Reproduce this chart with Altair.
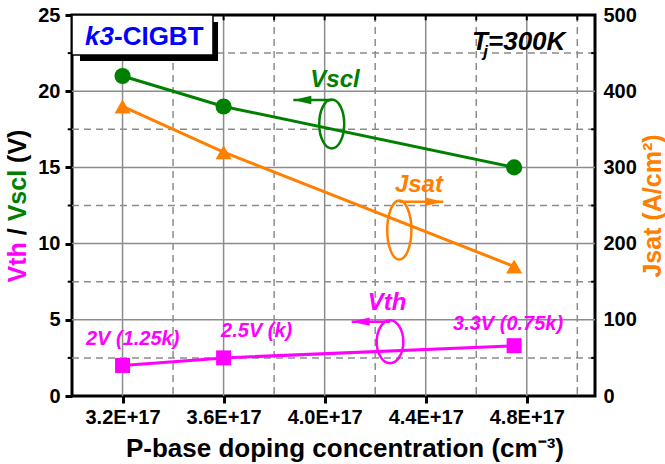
import altair as alt
import pandas as pd

# ---------------- data (doping in units of 1E+17 cm^-3) ----------------
doping = [3.2, 3.6, 4.75]
vth = [2.0, 2.5, 3.3]
vscl = [21.0, 19.0, 15.0]
jsat = [380, 320, 170]
vth_labels = ["2V (1.25k)", "2.5V (k)", "3.3V (0.75k)"]
vth_label_x = [3.24, 3.731, 4.726]
vth_label_y = [3.35, 3.87, 4.33]

x_ticks = [3.2, 3.6, 4.0, 4.4, 4.8]
x_minor = [3.4, 3.8, 4.2, 4.6, 5.0]
y_ticks = [0, 5, 10, 15, 20, 25]
y_major_grid = [5, 10, 15, 20]
y_minor_grid = [2.5, 7.5, 12.5, 17.5, 22.5]
jsat_ticks = [0, 100, 200, 300, 400, 500]
jsat_minor = [50, 150, 250, 350, 450]

# annotation groups (label, ellipse, arrow) in left-axis data units
ann_names = ["Vscl", "Jsat", "Vth"]
ann_text_x = [4.041, 4.373, 4.247]
ann_text_y = [20.28, 13.4, 5.64]
ann_ell_x = [4.028, 4.2955, 4.2587]
ann_ell_y = [17.85, 10.89, 3.56]
ann_ell_h = [49, 59, 43]
ann_ell_ratio = [0.51, 0.41, 0.62]
ann_arrow_y = [19.42, 12.75, 4.88]
ann_arrow_tip = [3.876, 4.4696, 4.107]

X_DOMAIN = [3.0, 5.07]
Y_DOMAIN = [0, 25]
J_DOMAIN = [0, 500]

GREEN = "#008000"
ORANGE = "#FF8000"
MAGENTA = "#FF00FF"
BLUE = "#0000FF"
GRID = "#8c8c8c"
FONT = "Liberation Sans"

df = pd.DataFrame({"doping": doping, "vth": vth, "vscl": vscl, "jsat": jsat,
                   "label": vth_labels, "lx": vth_label_x, "ly": vth_label_y})

xs = alt.Scale(domain=X_DOMAIN, nice=False, zero=False)
ys = alt.Scale(domain=Y_DOMAIN, nice=False, zero=False)
js = alt.Scale(domain=J_DOMAIN, nice=False, zero=False)

x_axis = alt.Axis(values=x_ticks, labelExpr="format(datum.value, '.1f') + 'E+17'",
                  title=None, grid=False, domain=False, ticks=True, tickSize=7,
                  tickWidth=3, tickColor="black", labelFontSize=20, labelFont=FONT,
                  labelFontWeight="bold", labelColor="black", labelPadding=4,
                  labelFlush=False, labelOverlap=False)
y_axis = alt.Axis(values=y_ticks, title=None, grid=False, domain=False, tickSize=7,
                  tickWidth=3, tickColor="black", labelFontSize=20, labelFont=FONT,
                  labelFontWeight="bold", labelColor="black", labelPadding=5,
                  labelFlush=False, labelOverlap=False)
j_axis = alt.Axis(orient="right", values=jsat_ticks, title=None, grid=False,
                  domain=False, ticks=False, labelFontSize=20, labelFont=FONT,
                  labelFontWeight="bold", labelColor="black", labelPadding=8,
                  labelFlush=False, labelOverlap=False)


def X(field):
    return alt.X(field, type="quantitative", scale=xs, axis=x_axis)


def Y(field):
    return alt.Y(field, type="quantitative", scale=ys, axis=y_axis)


def J(field):
    return alt.Y(field, type="quantitative", scale=js, axis=j_axis)


# ---------------- grid ----------------
vgrid_major = alt.Chart(pd.DataFrame({"v": x_ticks})).mark_rule(
    color=GRID, strokeWidth=1.5).encode(x=X("v"))
vgrid_minor = alt.Chart(pd.DataFrame({"v": x_minor})).mark_rule(
    color=GRID, strokeWidth=1.5, strokeDash=[7, 5]).encode(x=X("v"))
hgrid_major = alt.Chart(pd.DataFrame({"v": y_major_grid})).mark_rule(
    color=GRID, strokeWidth=1.5).encode(y=Y("v"))
hgrid_minor = alt.Chart(pd.DataFrame({"v": y_minor_grid})).mark_rule(
    color=GRID, strokeWidth=1.5, strokeDash=[7, 5]).encode(y=Y("v"))

# minor ticks (left outward, top inward)
lminor = alt.Chart(pd.DataFrame({"v": y_minor_grid, "a": 2.983, "b": 3.0})).mark_rule(
    color="black", strokeWidth=2).encode(x=X("a"), x2="b:Q", y=Y("v"))
top_ticks = alt.Chart(pd.DataFrame({"v": x_ticks + x_minor, "a": 24.65, "b": 25.0})).mark_rule(
    color="black", strokeWidth=2).encode(x=X("v"), y=Y("a"), y2="b:Q")

# ---------------- series on left axis ----------------
base = alt.Chart(df)
vth_line = base.mark_line(color=MAGENTA, strokeWidth=3).encode(x=X("doping"), y=Y("vth"))
vth_pts = base.mark_point(shape="square", filled=True, size=225, color=MAGENTA,
                          opacity=1).encode(x=X("doping"), y=Y("vth"))
vscl_line = base.mark_line(color=GREEN, strokeWidth=3).encode(x=X("doping"), y=Y("vscl"))
vscl_pts = base.mark_point(shape="circle", filled=True, size=260, color=GREEN,
                           opacity=1).encode(x=X("doping"), y=Y("vscl"))
vth_text = base.mark_text(color=MAGENTA, font=FONT, fontSize=20, fontWeight="bold",
                          fontStyle="italic", align="center", baseline="alphabetic").encode(
    x=X("lx"), y=Y("ly"), text="label:N")

# ---------------- annotation groups ----------------
colors = [GREEN, ORANGE, MAGENTA]
ann_layers = []
for i, name in enumerate(ann_names):
    c = colors[i]
    d = pd.DataFrame({"tx": [ann_text_x[i]], "ty": [ann_text_y[i]], "t": [name],
                      "ex": [ann_ell_x[i]], "ey": [ann_ell_y[i]],
                      "ay": [ann_arrow_y[i]], "tip": [ann_arrow_tip[i]]})
    r = ann_ell_ratio[i]
    ell_path = f"M{-r},0 A{r},1 0 1,0 {r},0 A{r},1 0 1,0 {-r},0 Z"
    right = ann_arrow_tip[i] > ann_ell_x[i]
    head = "M0,0 L-2,-0.47 L-2,0.47 Z" if right else "M0,0 L2,-0.47 L2,0.47 Z"
    b = alt.Chart(d)
    ann_layers += [
        b.mark_text(color=c, font=FONT, fontSize=24, fontWeight="bold",
                    fontStyle="italic", align="center", baseline="alphabetic").encode(
            x=X("tx"), y=Y("ty"), text="t:N"),
        b.mark_point(shape=ell_path, filled=False, size=ann_ell_h[i] ** 2, color=c,
                     strokeWidth=2.5, opacity=1).encode(x=X("ex"), y=Y("ey")),
        b.mark_rule(color=c, strokeWidth=2.5).encode(x=X("ex"), x2="tip:Q", y=Y("ay")),
        b.mark_point(shape=head, filled=True, size=324, color=c, opacity=1,
                     strokeWidth=0).encode(x=X("tip"), y=Y("ay")),
    ]

# ---------------- title box and Tj label ----------------
box_df = pd.DataFrame({"x1": [3.0], "x2": [3.558], "y1": [22.38], "y2": [25.0]})
shadow_df = pd.DataFrame({"x1": [3.0317], "x2": [3.578], "y1": [21.98], "y2": [24.54]})
shadow = alt.Chart(shadow_df).mark_rect(color="black").encode(
    x=X("x1"), x2="x2:Q", y=Y("y1"), y2="y2:Q")
box = alt.Chart(box_df).mark_rect(fill="white", stroke="black", strokeWidth=1.5).encode(
    x=X("x1"), x2="x2:Q", y=Y("y1"), y2="y2:Q")
box_text = alt.Chart(pd.DataFrame({"x": [3.0515, 3.1662], "y": [23.03, 23.03],
                                   "t": ["k3", "-CIGBT"],
                                   "s": ["italic", "normal"]}))
box_k3 = box_text.transform_filter("datum.s == 'italic'").mark_text(
    color=BLUE, font=FONT, fontSize=26, fontWeight="bold", fontStyle="italic",
    align="left", baseline="alphabetic").encode(x=X("x"), y=Y("y"), text="t:N")
box_rest = box_text.transform_filter("datum.s == 'normal'").mark_text(
    color=BLUE, font=FONT, fontSize=26, fontWeight="bold",
    align="left", baseline="alphabetic").encode(x=X("x"), y=Y("y"), text="t:N")

tj_df = pd.DataFrame({"x": [4.5832, 4.6465], "y": [22.70, 22.70], "t": ["T", "=300K"]})
tj = alt.Chart(tj_df).mark_text(color="black", font=FONT, fontSize=26, fontWeight="bold",
                                fontStyle="italic", align="left",
                                baseline="alphabetic").encode(x=X("x"), y=Y("y"), text="t:N")
tj_sub = alt.Chart(pd.DataFrame({"x": [4.628], "y": [22.24], "t": ["j"]})).mark_text(
    color="black", font=FONT, fontSize=17, fontWeight="bold", fontStyle="italic",
    align="left", baseline="alphabetic").encode(x=X("x"), y=Y("y"), text="t:N")

# ---------------- axis titles (multi-coloured) ----------------
ltitle = pd.DataFrame({"t": ["Vth", "/", "Vscl", "(V)"],
                       "c": [MAGENTA, "black", GREEN, "black"],
                       "yp": [267.4, 220.2, 206.3, 147.9]})
left_title = alt.Chart(ltitle).mark_text(font=FONT, fontSize=25, fontWeight="bold",
                                         angle=270, align="left", baseline="middle").encode(
    x=alt.value(-54), y=alt.Y("yp:Q", scale=None, axis=None), text="t:N",
    color=alt.Color("c:N", scale=None))
right_title = alt.Chart(pd.DataFrame({"t": ["Jsat (A/cm²)"]})).mark_text(
    font=FONT, fontSize=25, fontWeight="bold", angle=270, align="center",
    baseline="middle", color=ORANGE).encode(x=alt.value(581), y=alt.value(191), text="t:N")
x_title = alt.Chart(pd.DataFrame({"t": ["P-base doping concentration (cm⁻³)"]})).mark_text(
    font=FONT, fontSize=26, fontWeight="bold", align="center", baseline="alphabetic",
    color="black").encode(x=alt.value(273), y=alt.value(442), text="t:N")

left = alt.layer(vgrid_major, vgrid_minor, hgrid_major, hgrid_minor, lminor, top_ticks,
                 vth_line, vth_pts, vscl_line, vscl_pts, vth_text,
                 *ann_layers, shadow, box, box_k3, box_rest, tj, tj_sub)

# ---------------- series on right axis ----------------
rminor = alt.Chart(pd.DataFrame({"v": jsat_minor, "a": 5.055, "b": 5.07})).mark_rule(
    color="black", strokeWidth=2).encode(x=X("a"), x2="b:Q", y=J("v"))
jsat_line = base.mark_line(color=ORANGE, strokeWidth=3).encode(x=X("doping"), y=J("jsat"))
jsat_pts = base.mark_point(shape="triangle-up", filled=True, size=260, color=ORANGE,
                           opacity=1).encode(x=X("doping"), y=J("jsat"))
right = alt.layer(rminor, jsat_line, jsat_pts)

chart = alt.layer(left, right, left_title, right_title, x_title).resolve_scale(
    y="independent").properties(
    width=523, height=381, autosize="none",
    padding={"left": 72, "top": 15, "right": 70, "bottom": 68},
    background="white",
).configure_view(stroke="black", strokeWidth=3)

chart.save("out.html", embed_options={"renderer": "svg", "actions": False})
